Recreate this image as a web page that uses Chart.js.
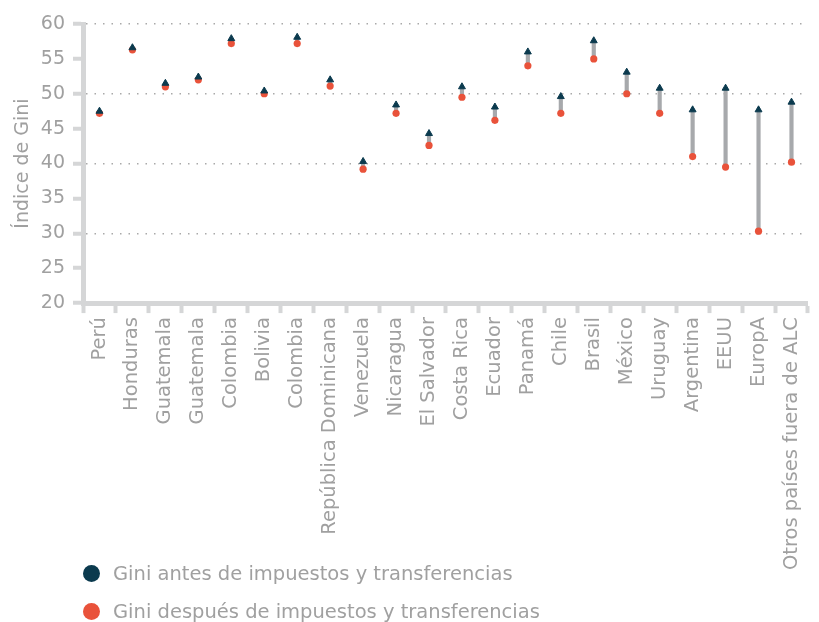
<!DOCTYPE html>
<html>
<head>
<meta charset="utf-8">
<script src="https://cdn.jsdelivr.net/npm/chart.js@4"></script>
<style>
    html, body { margin: 0; padding: 0; background: #fff; }
    #wrap { position: relative; width: 819px; height: 622px; }
    #legend { position: absolute; left: 83px; top: 554px; font-family: 'DejaVu Sans', sans-serif; font-size: 19.5px; color: #a0a0a0; }
    #legend div { display: flex; align-items: center; height: 38px; }
    #legend span.dot { display: inline-block; width: 17px; height: 17px; border-radius: 50%; margin-right: 13px; }
</style>
</head>
<body>
<div id="wrap">
    <canvas id="giniChart" width="819" height="622"></canvas>
    <div id="legend"></div>
</div>
<script>
// Data
const countries = ['Perú', 'Honduras', 'Guatemala', 'Guatemala', 'Colombia', 'Bolivia', 'Colombia',
    'República Dominicana', 'Venezuela', 'Nicaragua', 'El Salvador', 'Costa Rica', 'Ecuador', 'Panamá',
    'Chile', 'Brasil', 'México', 'Uruguay', 'Argentina', 'EEUU', 'EuropA', 'Otros países fuera de ALC'];
const giniBefore = [47.5, 56.6, 51.5, 52.4, 57.9, 50.4, 58.1, 52.0, 40.3, 48.4, 44.3, 51.0, 48.1, 56.0,
    49.6, 57.6, 53.1, 50.8, 47.7, 50.8, 47.7, 48.8];
const giniAfter = [47.2, 56.3, 51.0, 52.0, 57.2, 50.0, 57.2, 51.1, 39.2, 47.2, 42.6, 49.5, 46.2, 54.0,
    47.2, 55.0, 50.0, 47.2, 41.0, 39.5, 30.3, 40.2];
const legendLabels = ['Gini antes de impuestos y transferencias', 'Gini después de impuestos y transferencias'];

const COLOR_BEFORE = '#0b3a4e';
const COLOR_AFTER = '#e9523a';
const TEXT_GRAY = '#a0a0a0';
const AXIS_GRAY = '#d5d6d7';
const FONT = "'DejaVu Sans', sans-serif";

// gray connector between both values
const ranges = giniAfter.map((v, i) => [v, giniBefore[i]]);

const ctx = document.getElementById('giniChart').getContext('2d');
const chart = new Chart(ctx, {
    type: 'bar',
    data: {
        labels: countries,
        datasets: [
            {
                label: 'rango',
                data: ranges,
                backgroundColor: '#a7a9ac',
                barThickness: 3.5,
                order: 3
            },
            {
                type: 'line',
                label: legendLabels[0],
                data: giniBefore,
                showLine: false,
                pointStyle: 'triangle',
                pointRadius: 4,
                backgroundColor: COLOR_BEFORE,
                borderColor: COLOR_BEFORE,
                borderWidth: 1,
                order: 1
            },
            {
                type: 'line',
                label: legendLabels[1],
                data: giniAfter,
                showLine: false,
                pointStyle: 'circle',
                pointRadius: 3.6,
                backgroundColor: COLOR_AFTER,
                borderColor: COLOR_AFTER,
                borderWidth: 0,
                order: 2
            }
        ]
    },
    options: {
        responsive: false,
        animation: false,
        layout: {
            padding: { top: 24, right: 5, bottom: 48, left: 0 }
        },
        plugins: {
            legend: { display: false },
            tooltip: { enabled: false }
        },
        scales: {
            x: {
                offset: true,
                grid: {
                    offset: true,
                    drawOnChartArea: false,
                    tickLength: 10,
                    tickWidth: 4,
                    tickColor: AXIS_GRAY
                },
                border: { width: 5, color: AXIS_GRAY },
                ticks: {
                    autoSkip: false,
                    maxRotation: 90,
                    minRotation: 90,
                    padding: 4,
                    color: TEXT_GRAY,
                    font: { family: FONT, size: 19.5 }
                }
            },
            y: {
                min: 20,
                max: 60,
                afterFit: (scale) => { scale.width = 83; },
                ticks: {
                    stepSize: 5,
                    padding: 8,
                    color: TEXT_GRAY,
                    font: { family: FONT, size: 19 }
                },
                grid: {
                    color: (c) => (c.tick && c.tick.value % 10 === 0 && c.tick.value > 20) ? '#a9a9a9' : 'transparent',
                    lineWidth: 1.5,
                    tickLength: 10,
                    tickWidth: 4,
                    tickColor: AXIS_GRAY
                },
                border: { width: 5, color: AXIS_GRAY, dash: [1.5, 7] },
                title: {
                    display: true,
                    text: 'Índice de Gini',
                    color: TEXT_GRAY,
                    font: { family: FONT, size: 19 },
                    padding: { top: 12, bottom: 0 }
                }
            }
        }
    }
});

// HTML legend, stacked like the original
const legendEl = document.getElementById('legend');
[COLOR_BEFORE, COLOR_AFTER].forEach((color, i) => {
    const row = document.createElement('div');
    row.innerHTML = `<span class="dot" style="background:${color}"></span>${legendLabels[i]}`;
    legendEl.appendChild(row);
});
</script>
</body>
</html>
